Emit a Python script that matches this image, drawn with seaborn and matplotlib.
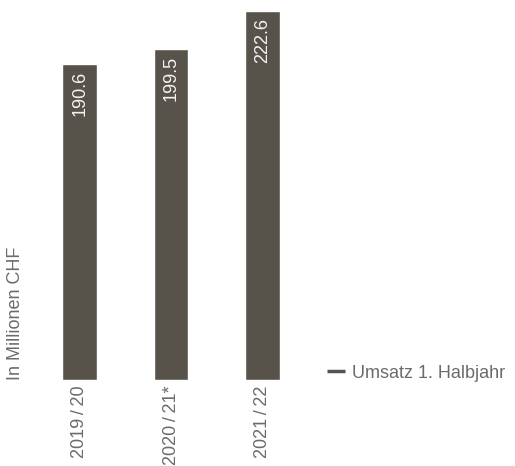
import matplotlib
matplotlib.use("Agg")
import matplotlib.pyplot as plt
from matplotlib.lines import Line2D
import pandas as pd
import seaborn as sns

periods = ["2019\u2009/\u200920", "2020\u2009/\u200921*", "2021\u2009/\u200922"]
umsatz = [190.6, 199.5, 222.6]
value_labels = ["190.6", "199.5", "222.6"]
series_name = "Umsatz 1. Halbjahr"
y_title = "In Millionen CHF"

bar_color = "#57534a"
text_color = "#6b6b6b"

sns.set_style("white")
plt.rcParams["font.family"] = ["Liberation Sans", "DejaVu Sans"]

df = pd.DataFrame({"period": periods, "umsatz": umsatz})

fig = plt.figure(figsize=(5.15, 4.66), dpi=100)
ax = fig.add_axes([34 / 515, 1 - 380 / 466, 274 / 515, 369 / 466])

sns.barplot(data=df, x="period", y="umsatz", color=bar_color, saturation=1,
            width=0.38, ax=ax)

ax.set_ylim(0, max(umsatz))
ax.set_xlim(-0.5, 2.5)
sns.despine(ax=ax, left=True, bottom=True)
ax.set_yticks([])
ax.set_xlabel("")
ax.set_ylabel("")
ax.tick_params(axis="x", length=0, pad=4, labelsize=13, labelcolor=text_color)
for lab in ax.get_xticklabels():
    lab.set_rotation(90)
    lab.set_va("top")
    lab.set_ha("center")

for i, (v, lab) in enumerate(zip(umsatz, value_labels)):
    ax.annotate(lab, (i, v), xytext=(0, -5), textcoords="offset points",
                rotation=90, ha="center", va="top", color="#f4f4f2", fontsize=13)

ax.text(-0.068, 0, y_title, transform=ax.transAxes, rotation=90,
        ha="center", va="bottom", fontsize=13, color=text_color)

handle = Line2D([], [], color=bar_color, linewidth=2.5, solid_capstyle="butt")
fig.legend([handle], [series_name], loc="center left",
           bbox_to_anchor=(327 / 515, 1 - 373 / 466), frameon=False,
           borderpad=0, borderaxespad=0, handlelength=1.0, handletextpad=0.4,
           fontsize=13, labelcolor=text_color)

fig.savefig("out.png", dpi=100)
